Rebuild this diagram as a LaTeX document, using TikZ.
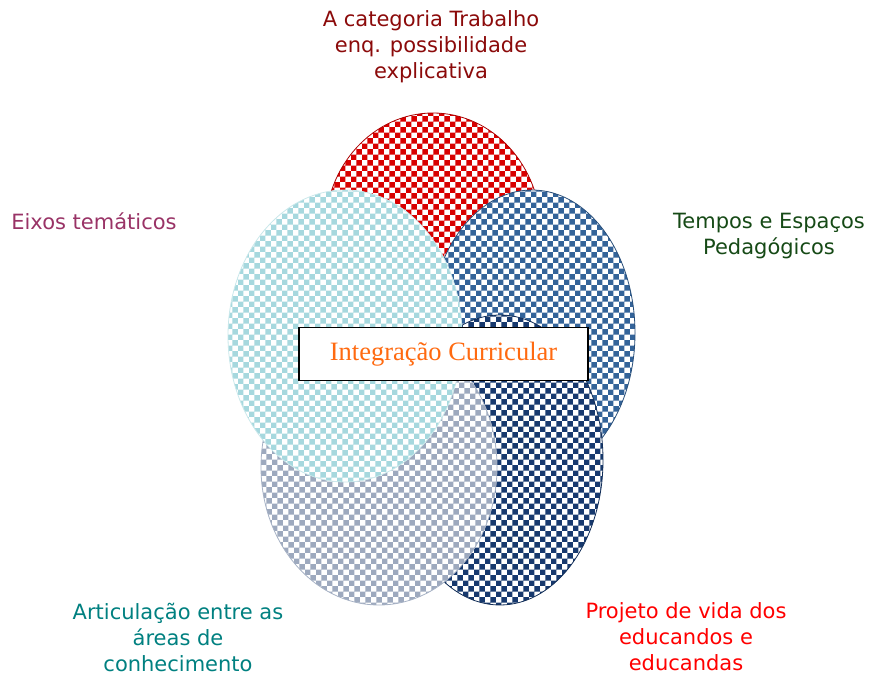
\documentclass[tikz,border=0pt]{standalone}
\usepackage{fontspec}
\setmainfont{DejaVu Sans}
\newfontfamily\serifa{Liberation Serif}
\usetikzlibrary{patterns}

\definecolor{vinho}{HTML}{8B0A0A}
\definecolor{magenta}{HTML}{993366}
\definecolor{verde}{HTML}{164A16}
\definecolor{petroleo}{HTML}{008080}
\definecolor{vermelho}{HTML}{FF0000}
\definecolor{laranja}{HTML}{FF6A10}
\definecolor{trabalho}{HTML}{D80000}
\definecolor{tempos}{HTML}{336399}
\definecolor{projeto}{HTML}{17396E}
\definecolor{areas}{HTML}{9DA9BE}
\definecolor{eixos}{HTML}{A6D8DE}

\begin{document}
\begin{tikzpicture}
[
    x=1pt, y=-1pt,
    bolha/.style={preaction={fill=white}, pattern=checkerboard, line width=0.8pt},
    rotulo/.style={font=\fontsize{21}{26}\selectfont, align=center},
]
\useasboundingbox (0,0) rectangle (869,676);

\path [bolha, draw=trabalho!80!black, pattern color=trabalho] (433,231) ellipse (108 and 118);
\path [bolha, draw=tempos!80!black, pattern color=tempos] (532,333) ellipse (103 and 143);
\path [bolha, draw=projeto!80!black, pattern color=projeto] (500,460) ellipse (103 and 145);
\path [bolha, draw=areas!90!white, pattern color=areas] (379,467) ellipse (118 and 138);
\path [bolha, draw=eixos!60, pattern color=eixos] (345,336) ellipse (117 and 146);

\node [draw, line width=1.2pt, fill=white, minimum width=289pt, minimum height=53pt,
       font=\serifa\fontsize{26.5}{30}\selectfont, text=laranja]
    (integracao) at (443.5,354) {Integração Curricular};

\node [rotulo, text=vinho] (trab) at (431,47)
    {A categoria Trabalho\\enq. possibilidade\\explicativa};
\node [rotulo, text=magenta] (eix) at (94,221) {Eixos temáticos};
\node [rotulo, text=verde] (temp) at (769,236) {Tempos e Espaços\\Pedagógicos};
\node [rotulo, text=petroleo] (art) at (178,637)
    {Articulação entre as\\áreas de\\conhecimento};
\node [rotulo, text=vermelho] (proj) at (686,637)
    {Projeto de vida dos\\educandos e\\educandas};
\end{tikzpicture}
\end{document}
